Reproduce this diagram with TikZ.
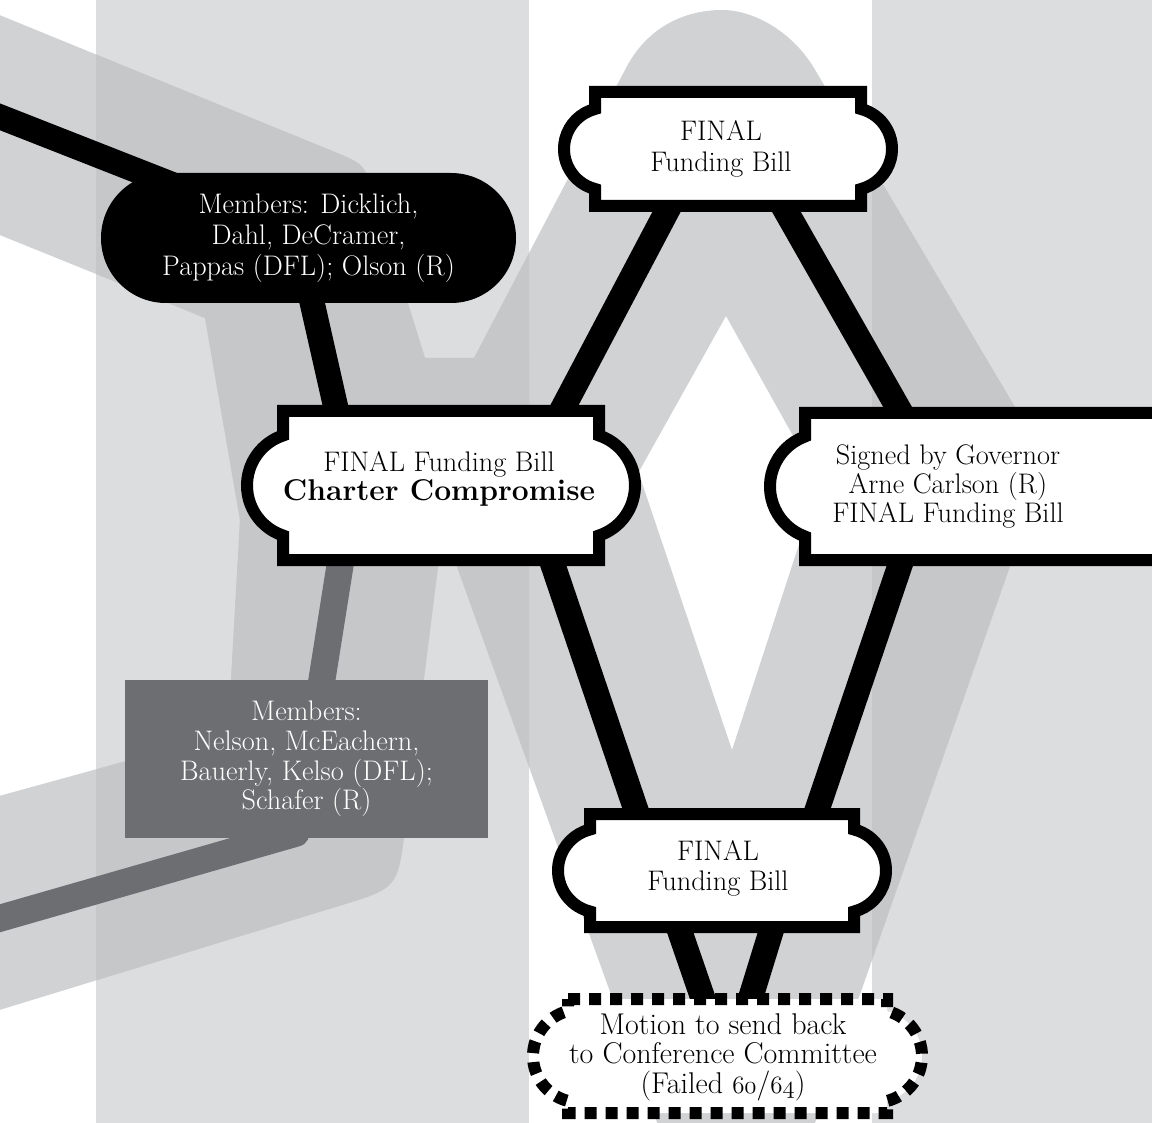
\documentclass[tikz,border=0pt]{standalone}
\usepackage{fontspec}
\usetikzlibrary{calc}
\definecolor{bandc}{HTML}{DCDDDF}
\definecolor{shapew}{HTML}{D1D2D4}
\definecolor{shaped}{HTML}{C6C7C9}
\definecolor{gnode}{HTML}{6D6E71}
\newcommand\osnum[1]{{\usefont{OML}{lmm}{m}{it}#1}}
\pgfdeclarelayer{bgl}\pgfdeclarelayer{connl}\pgfsetlayers{bgl,connl,main}
\newcommand\plq[7]{%
  \pgfmathsetmacro\plqd{(#5*#5-#6*#6)/(2*#6)}%
  \pgfmathsetmacro\plqr{#6+\plqd}%
  \pgfmathsetmacro\plqphi{atan2(#5,\plqd)}%
  \path[#7] ({#1-#3},{#2-#4}) -- ({#1+#3},{#2-#4}) -- ({#1+#3},{#2-#5})
    arc[start angle={-\plqphi}, end angle={\plqphi}, radius=\plqr]
    -- ({#1+#3},{#2+#4}) -- ({#1-#3},{#2+#4}) -- ({#1-#3},{#2+#5})
    arc[start angle={180-\plqphi}, end angle={180+\plqphi}, radius=\plqr] -- cycle;}
\newcommand\bgshapes[1]{%
  \fill[#1] (-30,3) -- (332.2,150.9) .. controls (364.6,164.1) .. (375,197.5) -- (425,358) -- (446,460) -- (439,559)
     -- (405.1,828.5) .. controls (397.6,888) .. (340.2,905.6) -- (-30,1019) -- (-30,804) -- (228,733)
     -- (240,520) -- (205,318) -- (-30,223) -- cycle;
  \fill[#1] (368.7,559) -- (626,68) .. controls (649.6,23) and (690,10) .. (722,10)
     .. controls (755,10) and (793,33) .. (814,68) -- (1105,559) -- (862,559) -- (726,316) -- (590,559) -- cycle;
  \fill[#1] (381.8,358) -- (599.9,358) -- (732,750) -- (836.3,430) -- (1057.6,430) -- (788,1200) -- (685,1200) -- cycle;}
\tikzset{
  txt/.style={align=center, inner sep=0pt},
  bconn/.style={line width=25pt, draw=black},
  gconn/.style={line width=27pt, draw=gnode},
  plaque/.style={draw=black, fill=white, line width=12pt},
  dplaque/.style={draw=black, fill=white, line width=12pt, dash pattern=on 12pt off 9pt}
}
\begin{document}
\begin{tikzpicture}[x=1pt, y=-1pt]
\useasboundingbox (0,0) rectangle (1152,1123);
\begin{pgfonlayer}{bgl}
  \fill[white] (0,0) rectangle (1152,1123);
  \fill[bandc] (96,0) rectangle (529,1123);
  \fill[bandc] (872,0) rectangle (1152,1123);
  \bgshapes{shapew}
  \begin{scope}
    \clip (96,0) rectangle (529,1123) (872,0) rectangle (1152,1123);
    \bgshapes{shaped}
  \end{scope}
\end{pgfonlayer}

% plaques
\plq{728}{149}{133}{57}{40}{31}{plaque}
\plq{441}{485.5}{158}{74.5}{50}{36}{plaque}
\plq{1000}{486.5}{195}{73.5}{50}{35}{plaque}
\plq{722}{870.5}{132}{56.5}{41}{32}{plaque}
\plq{727.5}{1056}{159.5}{57}{45}{35}{dplaque}

% nodes
\node[txt, fill=black, text=white, rounded corners=65pt, minimum width=415pt, minimum height=130pt,
  font=\fontsize{28.3}{31}\selectfont] (mem) at (308.5,238)
  {Members: Dicklich,\\Dahl, DeCramer,\\Pappas (DFL); Olson (R)};
\node[txt, fill=gnode, text=white, minimum width=363pt, minimum height=158pt,
  font=\fontsize{28.3}{29.7}\selectfont] (gmem) at (306.5,759)
  {Members:\\Nelson, McEachern,\\Bauerly, Kelso (DFL);\\Schafer (R)};
\node[txt, font=\fontsize{28.3}{31}\selectfont] (ftop) at (721,148.45) {FINAL\\Funding Bill};
\node[txt, font=\fontsize{28.3}{29}\selectfont] (charter) at (439,478.55)
  {FINAL Funding Bill\\{\fontsize{30}{29}\selectfont\bfseries Charter Compromise}};
\node[txt, font=\fontsize{28.3}{29}\selectfont] (signed) at (948,486.95)
  {Signed by Governor\\Arne Carlson (R)\\FINAL Funding Bill};
\node[txt, font=\fontsize{28.3}{30}\selectfont] (fbot) at (718,867.95) {FINAL\\Funding Bill};
\node[txt, font=\fontsize{30}{29.5}\selectfont] (motion) at (723,1056.85)
  {Motion to send back\\to Conference Committee\\(Failed \osnum{60}/\osnum{64})};
\coordinate (bl) at (-20,109);
\coordinate (gl) at (-20,924);

\begin{pgfonlayer}{connl}
  \draw[bconn] (bl) -- (mem.center);
  \draw[bconn] ([shift={(0.8,-13)}]mem.south) -- ([shift={(-101,-61.5)}]charter.center);
  \draw[gconn] ([shift={(-97,74.5)}]charter.center) -- ([shift={(13.5,12)}]gmem.north);
  \draw[gconn, line cap=round] (gl) -- ([shift={(-10.5,-5)}]gmem.south);
  \draw[bconn] ([shift={(-47.5,50.2)}]ftop.center) -- ([shift={(119.5,-62.1)}]charter.center);
  \draw[bconn] ([shift={(58,50.4)}]ftop.center) -- ([shift={(-44,-68.75)}]signed.center);
  \draw[bconn] ([shift={(109.5,73.2)}]charter.center) -- ([shift={(-78.5,-47.6)}]fbot.center);
  \draw[bconn] ([shift={(-43.5,64.95)}]signed.center) -- ([shift={(95.5,-47.6)}]fbot.center);
  \draw[bconn] ([shift={(-42.5,50.9)}]fbot.center) -- ([shift={(-17.5,-51)}]motion.center);
  \draw[bconn] ([shift={(57,50.7)}]fbot.center) -- ([shift={(25,-50.6)}]motion.center);
\end{pgfonlayer}
\end{tikzpicture}
\end{document}
